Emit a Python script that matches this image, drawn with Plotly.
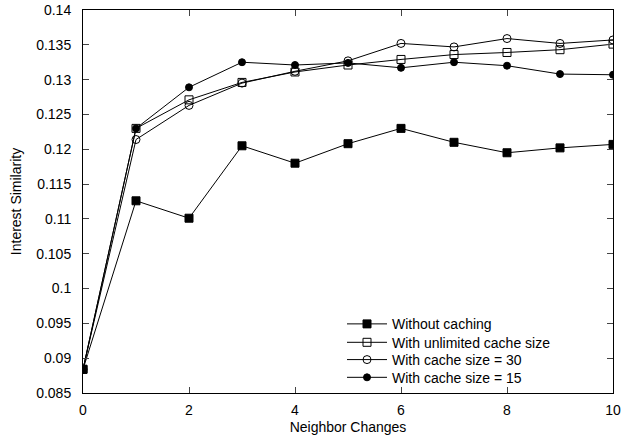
import plotly.graph_objects as go

x = [0, 1, 2, 3, 4, 5, 6, 7, 8, 9, 10]
without_caching = [0.0884, 0.1126, 0.1101, 0.1205, 0.1180, 0.1208, 0.1230, 0.1210, 0.1195, 0.1202, 0.1207]
unlimited_cache = [0.0884, 0.1230, 0.1271, 0.1296, 0.1311, 0.1321, 0.1329, 0.1336, 0.1339, 0.1343, 0.1351]
cache_30 = [0.0884, 0.1214, 0.1263, 0.1295, 0.1312, 0.1327, 0.1352, 0.1347, 0.1359, 0.1352, 0.1357]
cache_15 = [0.0884, 0.1230, 0.1289, 0.1325, 0.1321, 0.1324, 0.1317, 0.1325, 0.1320, 0.1308, 0.1307]

y_tickvals = [0.085, 0.09, 0.095, 0.1, 0.105, 0.11, 0.115, 0.12, 0.125, 0.13, 0.135, 0.14]
y_ticktext = ["0.085", "0.09", "0.095", "0.1", "0.105", "0.11", "0.115", "0.12", "0.125", "0.13", "0.135", "0.14"]
x_tickvals = [0, 2, 4, 6, 8, 10]

font = "Liberation Sans, Arial, sans-serif"
fs = 14

fig = go.Figure()
series = [
    ("Without caching", without_caching, "square", 8, "legend"),
    ("With unlimited cache size", unlimited_cache, "square-open", 8, "legend2"),
    ("With cache size = 30", cache_30, "circle-open", 8, "legend3"),
    ("With cache size = 15", cache_15, "circle", 7, "legend4"),
]
for name, ys, sym, sz, lg in series:
    fig.add_trace(go.Scatter(
        x=x, y=ys, name=name, mode="lines+markers", legend=lg,
        line=dict(color="black", width=1),
        marker=dict(symbol=sym, size=sz, color="black", line=dict(color="black", width=1)),
    ))

legend_y = [0.1794, 0.1313, 0.0862, 0.0399]
leg_common = dict(
    x=0.4887, xanchor="left", yanchor="middle",
    bgcolor="rgba(0,0,0,0)", borderwidth=0,
    font=dict(family=font, size=fs, color="black"),
    itemwidth=40,
)

fig.update_layout(
    template="none",
    width=626, height=438,
    margin=dict(l=83, r=13, t=10, b=45, autoexpand=False),
    paper_bgcolor="white", plot_bgcolor="white",
    font=dict(family=font, size=fs, color="black"),
    showlegend=True,
    legend=dict(y=legend_y[0], **leg_common),
    legend2=dict(y=legend_y[1], **leg_common),
    legend3=dict(y=legend_y[2], **leg_common),
    legend4=dict(y=legend_y[3], **leg_common),
)
fig.update_xaxes(
    range=[0, 10], tickvals=x_tickvals, ticks="inside", ticklen=6,
    ticklabelstandoff=4, automargin=False,
    showline=True, linecolor="black", linewidth=1, mirror="ticks",
    showgrid=False, zeroline=False,
    title=dict(text="Neighbor Changes", font=dict(family=font, size=fs), standoff=5),
)
fig.update_yaxes(
    range=[0.085, 0.14], tickvals=y_tickvals, ticktext=y_ticktext,
    ticks="inside", ticklen=6, ticklabelstandoff=8, automargin=False,
    showline=True, linecolor="black", linewidth=1, mirror="ticks",
    showgrid=False, zeroline=False,
    title=dict(text="Interest Similarity", font=dict(family=font, size=fs), standoff=11),
)

fig.write_html("out.html", config={"displayModeBar": False},
               post_script="document.body.style.margin='0';")
